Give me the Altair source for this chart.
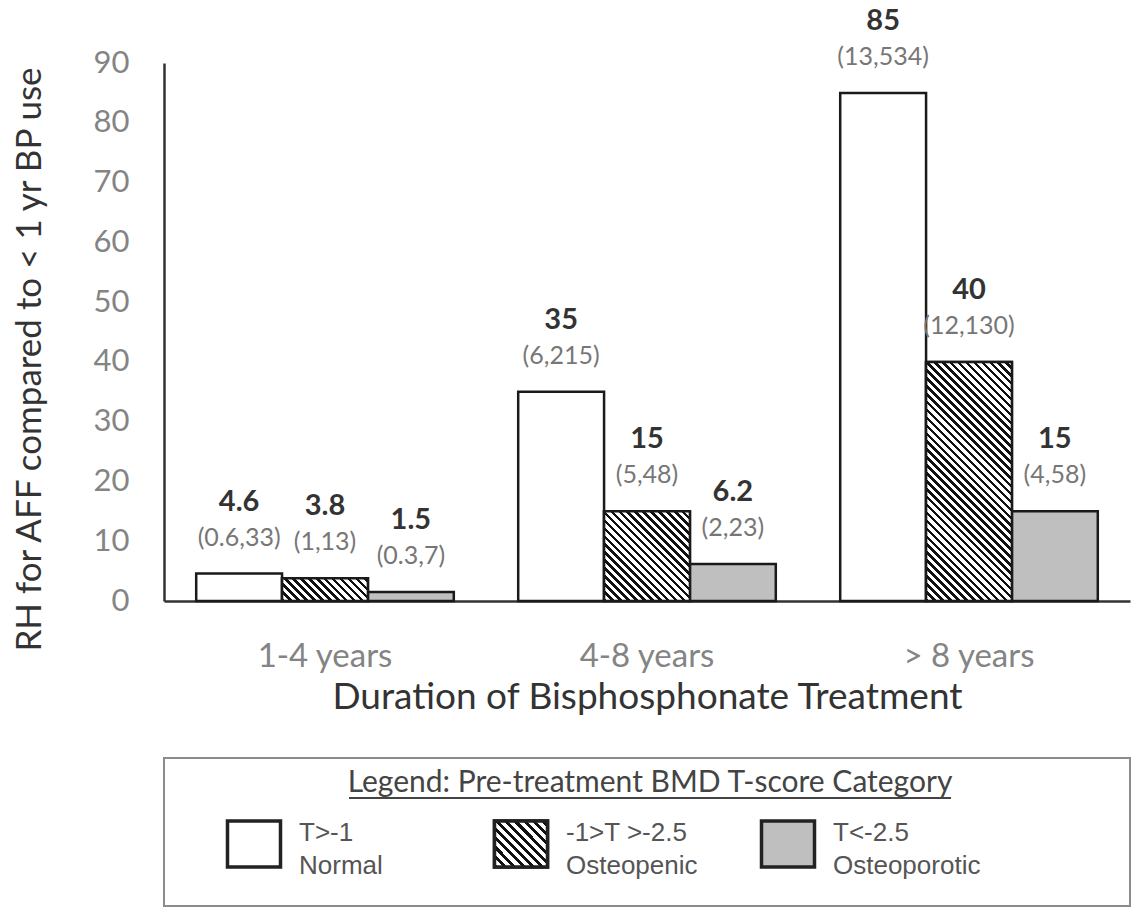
import math
import altair as alt
import pandas as pd

# ---------------- data ----------------
durations = ["1-4 years", "4-8 years", "> 8 years"]
series_names = ["Normal", "Osteopenic", "Osteoporotic"]

normal_vals = [4.6, 35, 85]
osteopenic_vals = [3.8, 15, 40]
osteoporotic_vals = [1.5, 6.2, 15]

normal_ci = ["(0.6,33)", "(6,215)", "(13,534)"]
osteopenic_ci = ["(1,13)", "(5,48)", "(12,130)"]
osteoporotic_ci = ["(0.3,7)", "(2,23)", "(4,58)"]

legend_line1 = ["T>-1", "-1>T >-2.5", "T<-2.5"]
legend_line2 = ["Normal", "Osteopenic", "Osteoporotic"]
legend_title = "Legend: Pre-treatment BMD T-score Category"

rows = []
for s, vals, cis in zip(series_names,
                        [normal_vals, osteopenic_vals, osteoporotic_vals],
                        [normal_ci, osteopenic_ci, osteoporotic_ci]):
    for d, v, c in zip(durations, vals, cis):
        rows.append({"duration": d, "series": s, "value": v,
                     "label": f"{v:g}", "ci": c})
df = pd.DataFrame(rows)

# ---------------- layout / style ----------------
W, H = 966, 538
YMAX = 90
STEP = W / 3
BAR_W = STEP * 0.8 / 3
FONT = "Lato"
STROKE = "#1a1a1a"


def hatch(w, h, period=5.6, frac=0.45, ink="#111111", bg="#ffffff"):
    """Diagonal (top-left to bottom-right) stripes as a bbox linear gradient."""
    c = (w + h) / (w * w + h * h)
    L = (w + h) / math.sqrt(2)
    stops = []
    k = 0
    while k * period < L:
        t0 = k * period / L
        t1 = min((k * period + frac * period) / L, 1.0)
        t2 = min((k + 1) * period / L, 1.0)
        stops += [alt.GradientStop(offset=t0, color=ink),
                  alt.GradientStop(offset=t1, color=ink),
                  alt.GradientStop(offset=t1, color=bg),
                  alt.GradientStop(offset=t2, color=bg)]
        k += 1
    return alt.LinearGradient(gradient="linear", stops=stops,
                              x1=0, y1=1, x2=w * c, y2=1 - h * c)


x_enc = alt.X(
    "duration:N", sort=durations,
    scale=alt.Scale(paddingInner=0.2, paddingOuter=0.1),
    axis=alt.Axis(title="Duration of Bisphosphonate Treatment", labelAngle=0,
                  ticks=False, labelFont=FONT, labelFontSize=33,
                  labelColor="#848484", labelPadding=39,
                  titleFont=FONT, titleFontSize=37, titleFontWeight="normal",
                  titleColor="#333333", titlePadding=6,
                  domainColor="#333333", domainWidth=2.5))
xo_enc = alt.XOffset("series:N", sort=series_names,
                     scale=alt.Scale(domain=series_names, paddingInner=0,
                                     paddingOuter=0))
y_enc = alt.Y(
    "value:Q", scale=alt.Scale(domain=[0, YMAX], nice=False),
    axis=alt.Axis(values=list(range(0, 91, 10)), grid=False, ticks=False,
                  labelFont=FONT, labelFontSize=31, labelColor="#848484",
                  labelPadding=35,
                  title="RH for AFF compared to < 1 yr BP use",
                  titleFont=FONT, titleFontSize=35, titleFontWeight="normal",
                  titleColor="#333333", titlePadding=46, titleY=296,
                  domainColor="#333333", domainWidth=2.5))

base = alt.Chart(df)

bars = base.mark_bar(stroke=STROKE, strokeWidth=2.5).encode(
    x=x_enc, xOffset=xo_enc, y=y_enc,
    fill=alt.Fill("series:N", scale=alt.Scale(domain=series_names,
                  range=["#ffffff", "#ffffff", "#bfbfbf"]), legend=None),
)

hatched_layers = []
for d, v in zip(durations, osteopenic_vals):
    h_px = v * H / YMAX
    hatched_layers.append(
        base.transform_filter(
            (alt.datum.series == "Osteopenic") & (alt.datum.duration == d)
        ).mark_bar(stroke=STROKE, strokeWidth=2.5,
                   fill=hatch(BAR_W, h_px)).encode(
            x=x_enc, xOffset=xo_enc, y=y_enc)
    )

ci_text = base.mark_text(font=FONT, fontSize=25, color="#777777",
                         baseline="middle", dy=-36).encode(
    x=x_enc, xOffset=xo_enc, y=y_enc, text="ci:N")
val_text = base.mark_text(font=FONT, fontSize=29, fontWeight="bold",
                          color="#333333", baseline="middle", dy=-72).encode(
    x=x_enc, xOffset=xo_enc, y=y_enc, text="label:N")

main = alt.layer(bars, *hatched_layers, ci_text, val_text).properties(
    width=W, height=H)

# ---------------- legend panel ----------------
LW, LH = 966, 148
leg_df = pd.DataFrame({"series": series_names, "line1": legend_line1,
                       "line2": legend_line2})
lx = alt.X("series:N", sort=series_names,
           scale=alt.Scale(type="point", domain=series_names, range=[90, 624],
                           padding=0),
           axis=None)
swatch_shape = "M-1,-0.87L1,-0.87L1,0.87L-1,0.87Z"
lbase = alt.Chart(leg_df)

sw = lbase.mark_point(shape=swatch_shape, size=53 * 53, filled=True,
                      stroke="#222222", strokeWidth=3.5, opacity=1).encode(
    x=lx, y=alt.value(86),
    fill=alt.Fill("series:N", scale=alt.Scale(domain=series_names,
                  range=["#ffffff", "#ffffff", "#bfbfbf"]), legend=None))
sw_hatch = lbase.transform_filter(alt.datum.series == "Osteopenic").mark_point(
    shape=swatch_shape, size=53 * 53, filled=True, stroke="#222222",
    strokeWidth=3.5, opacity=1, fill=hatch(53, 46, period=6.5)).encode(
    x=lx, y=alt.value(86))

t1 = lbase.mark_text(font="Liberation Sans", fontSize=26, color="#555555",
                     align="left", baseline="middle", dx=45).encode(
    x=lx, y=alt.value(75), text="line1:N")
t2 = lbase.mark_text(font="Liberation Sans", fontSize=26, color="#555555",
                     align="left", baseline="middle", dx=45).encode(
    x=lx, y=alt.value(108), text="line2:N")

title_df = pd.DataFrame({"t": [legend_title]})
ltitle = alt.Chart(title_df).mark_text(
    font=FONT, fontSize=30, color="#444444", baseline="middle").encode(
    x=alt.value(486), y=alt.value(25), text="t:N")
uline = alt.Chart(title_df).mark_rule(color="#444444", strokeWidth=1.8).encode(
    x=alt.value(185), x2=alt.value(787), y=alt.value(40))

legend_panel = alt.layer(sw, sw_hatch, t1, t2, ltitle, uline).properties(
    width=LW, height=LH,
    view=alt.ViewBackground(stroke="#8c8c8c", strokeWidth=2))

chart = alt.vconcat(main, legend_panel, spacing=42).properties(
    padding={"left": 12, "top": 6, "right": 0, "bottom": 0},
    background="#ffffff",
).configure_view(stroke=None)

chart.save("out.html", embed_options={"renderer": "svg", "actions": False})
